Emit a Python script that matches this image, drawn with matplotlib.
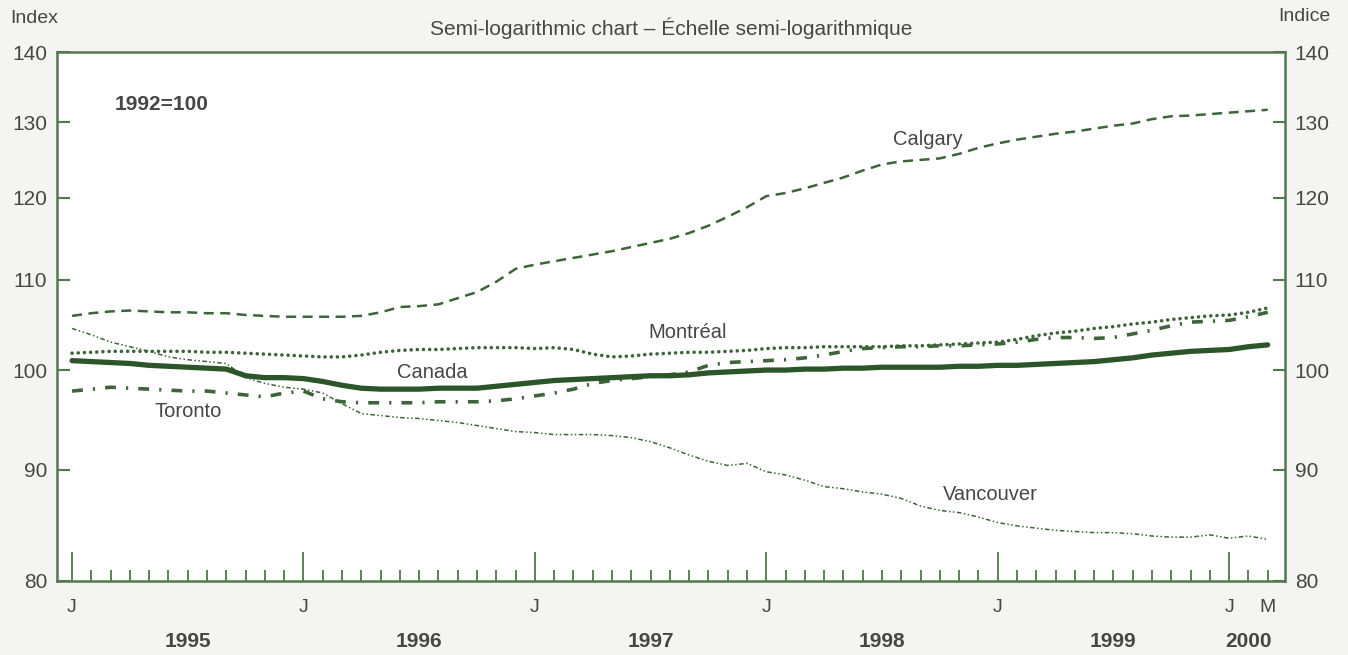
import numpy as np
import matplotlib
matplotlib.use("Agg")
from matplotlib import pyplot as plt
from matplotlib.ticker import FixedLocator, FixedFormatter, NullLocator
import matplotlib.transforms as mtransforms

plt.rcParams["font.family"] = ["Liberation Sans", "DejaVu Sans"]

# monthly index, 1992=100, January 1995 to March 2000
start_year = 1995
canada = [101.0, 100.9, 100.8, 100.7, 100.5, 100.4, 100.3, 100.2, 100.1, 99.4, 99.2, 99.2,
          99.1, 98.8, 98.4, 98.1, 98.0, 98.0, 98.0, 98.1, 98.1, 98.1, 98.3, 98.5,
          98.7, 98.9, 99.0, 99.1, 99.2, 99.3, 99.4, 99.4, 99.5, 99.7, 99.8, 99.9,
          100.0, 100.0, 100.1, 100.1, 100.2, 100.2, 100.3, 100.3, 100.3, 100.3, 100.4, 100.4,
          100.5, 100.5, 100.6, 100.7, 100.8, 100.9, 101.1, 101.3, 101.6, 101.8, 102.0, 102.1,
          102.2, 102.5, 102.7]
calgary = [105.9, 106.2, 106.4, 106.5, 106.4, 106.3, 106.3, 106.2, 106.2, 106.0, 105.9, 105.8,
           105.8, 105.8, 105.8, 105.9, 106.3, 106.9, 107.0, 107.2, 107.9, 108.6, 109.8, 111.3,
           111.8, 112.2, 112.6, 113.0, 113.4, 113.9, 114.4, 114.9, 115.6, 116.5, 117.6, 118.8,
           120.2, 120.6, 121.2, 121.9, 122.6, 123.5, 124.3, 124.7, 124.9, 125.1, 125.7, 126.5,
           127.1, 127.6, 128.0, 128.4, 128.7, 129.1, 129.5, 129.8, 130.4, 130.8, 130.9, 131.1,
           131.3, 131.5, 131.7]
montreal = [101.8, 101.9, 102.0, 102.0, 102.0, 102.0, 102.0, 101.9, 101.9, 101.8, 101.7, 101.6,
            101.5, 101.4, 101.4, 101.6, 101.9, 102.1, 102.2, 102.2, 102.3, 102.4, 102.4, 102.4,
            102.3, 102.4, 102.2, 101.7, 101.4, 101.5, 101.7, 101.8, 101.9, 101.9, 102.0, 102.1,
            102.3, 102.4, 102.4, 102.5, 102.5, 102.5, 102.5, 102.6, 102.6, 102.7, 102.8, 102.9,
            103.0, 103.3, 103.7, 104.0, 104.2, 104.5, 104.7, 105.0, 105.2, 105.5, 105.7, 105.9,
            106.0, 106.3, 106.8]
toronto = [97.8, 98.0, 98.2, 98.1, 98.0, 97.9, 97.8, 97.8, 97.6, 97.4, 97.2, 97.6,
           97.8, 97.0, 96.7, 96.6, 96.6, 96.6, 96.6, 96.7, 96.7, 96.7, 96.8, 97.0,
           97.3, 97.6, 98.0, 98.6, 98.9, 99.1, 99.3, 99.5, 99.8, 100.5, 100.8, 100.9,
           101.0, 101.1, 101.3, 101.6, 102.0, 102.3, 102.4, 102.5, 102.5, 102.6, 102.6, 102.7,
           102.8, 103.0, 103.3, 103.5, 103.5, 103.4, 103.5, 103.9, 104.3, 104.8, 105.2, 105.3,
           105.4, 105.8, 106.3]
vancouver = [104.5, 103.8, 103.0, 102.5, 102.0, 101.4, 101.1, 100.9, 100.7, 99.2, 98.6, 98.2,
             98.0, 97.6, 96.5, 95.5, 95.3, 95.1, 95.0, 94.8, 94.6, 94.3, 94.0, 93.7,
             93.6, 93.4, 93.4, 93.4, 93.3, 93.1, 92.7, 92.1, 91.4, 90.8, 90.4, 90.6,
             89.8, 89.5, 89.0, 88.4, 88.2, 87.9, 87.7, 87.3, 86.6, 86.2, 86.0, 85.6,
             85.1, 84.8, 84.6, 84.4, 84.3, 84.2, 84.2, 84.1, 83.9, 83.8, 83.8, 84.0,
             83.7, 83.9, 83.6]

y_ticks = [80, 90, 100, 110, 120, 130, 140]
month_letters = ["J", "F", "M", "A", "M", "J", "J", "A", "S", "O", "N", "D"]

line_col = "#3d6539"
spine_col = "#52784d"
text_col = "#464646"

months = np.arange(len(canada))
years = start_year + months // 12

fig = plt.figure(figsize=(13.48, 6.55), dpi=100, facecolor="#f4f4f2")
ax = fig.add_axes([0.0423, 0.113, 0.9110, 0.8076])
ax.set_facecolor("white")

ax.plot(months, calgary, color=line_col, lw=1.8, linestyle=(0, (4, 2.6)))
ax.plot(months, montreal, color=line_col, lw=2.6, linestyle=(0, (0.01, 1.7)),
        dash_capstyle="round")
ax.plot(months, toronto, color=line_col, lw=2.6, linestyle=(0, (3, 2.8, 0.6, 2.8)))
ax.plot(months, vancouver, color=line_col, lw=1.1, linestyle=(0, (3, 1.6, 1, 1.6, 1, 1.6)))
ax.plot(months, canada, color="#2c552a", lw=3.8, solid_capstyle="round")

ax.set_yscale("log")
ax.set_ylim(80, 140)
ax.set_xlim(-0.78, months[-1] + 0.9)
ax.yaxis.set_major_locator(FixedLocator(y_ticks))
ax.yaxis.set_major_formatter(FixedFormatter([str(v) for v in y_ticks]))
ax.yaxis.set_minor_locator(NullLocator())
ax.tick_params(axis="y", which="both", direction="in", length=9, width=1.5,
               color=spine_col, labelsize=15, labelcolor=text_col,
               left=True, right=True, labelleft=True, labelright=True, pad=7)

# January ticks long, other months short; label J for January and the last month
jan = months[months % 12 == 0]
other = months[months % 12 != 0]
ax.xaxis.set_major_locator(FixedLocator(jan))
ax.xaxis.set_major_formatter(FixedFormatter(["J"] * len(jan)))
ax.xaxis.set_minor_locator(FixedLocator(other))
ax.xaxis.set_minor_formatter(FixedFormatter(
    [month_letters[m % 12] if m == months[-1] else "" for m in other]))
ax.tick_params(axis="x", which="major", direction="in", length=21, width=1.3,
               color=spine_col, labelsize=14, labelcolor=text_col, pad=13)
ax.tick_params(axis="x", which="minor", direction="in", length=8, width=1.3,
               color=spine_col, labelsize=14, labelcolor=text_col, pad=13)

for s in ax.spines.values():
    s.set_color(spine_col)
    s.set_linewidth(1.8)

# year labels under each year
trans = mtransforms.blended_transform_factory(ax.transData, ax.transAxes)
for y in np.unique(years):
    m = months[years == y]
    xc = m.mean() + (0.5 if len(m) == 12 else 0)
    ax.text(xc, -0.115, str(y), transform=trans, ha="center", va="center",
            fontsize=15, fontweight="bold", color=text_col)

# series names
ax.text(44.4, 127.6, "Calgary", ha="center", va="center", fontsize=14.5, color=text_col)
ax.text(31.9, 104.0, "Montréal", ha="center", va="center", fontsize=14.5, color=text_col)
ax.text(18.7, 99.7, "Canada", ha="center", va="center", fontsize=14.5, color=text_col)
ax.text(6.0, 95.7, "Toronto", ha="center", va="center", fontsize=14.5, color=text_col)
ax.text(47.6, 87.7, "Vancouver", ha="center", va="center", fontsize=14.5, color=text_col)

ax.text(0.047, 0.90, "1992=100", transform=ax.transAxes, ha="left", va="center",
        fontsize=15, fontweight="bold", color=text_col)

fig.text(0.0074, 0.972, "Index", ha="left", va="center", fontsize=14, color=text_col)
fig.text(0.987, 0.975, "Indice", ha="right", va="center", fontsize=14, color=text_col)
fig.text(0.498, 0.957, "Semi-logarithmic chart – Échelle semi-logarithmique",
         ha="center", va="center", fontsize=15, color=text_col)

plt.savefig("out.png", dpi=100, facecolor=fig.get_facecolor())
